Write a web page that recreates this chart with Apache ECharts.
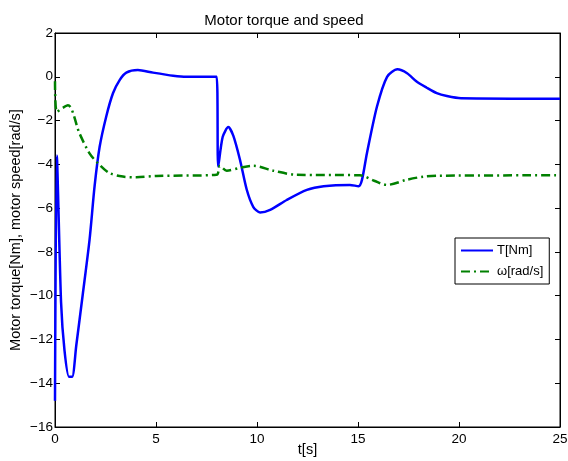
<!DOCTYPE html>
<html>
<head>
<meta charset="utf-8">
<script src="https://cdn.jsdelivr.net/npm/echarts@6/dist/echarts.min.js"></script>
<style>
  html, body { margin: 0; padding: 0; background: #fff; }
  #chart { width: 568px; height: 461px; }
</style>
</head>
<body>
<div id="chart"></div>
<script>
// torque T[Nm] samples (time, value)
const torqueTime = [0, 0.09, 0.3, 0.47, 0.69, 0.85, 1.05, 1.38, 1.71, 1.96, 2.21, 2.54, 2.87, 3.2, 3.53, 4.1, 4.85, 5.85, 6.5, 8.0,
  8.08, 8.3, 8.58, 8.83, 9.16, 9.49, 9.82, 10.15, 10.65, 11.47, 12.47, 13.3, 14.6, 15.03, 15.2, 15.44, 15.94, 16.44,
  16.95, 17.43, 17.9, 18.4, 18.9, 19.4, 20.1, 25]
const torqueVal = [-14.8, -3.6, -10.3, -12.5, -13.7, -13.7, -12.3, -9.9, -7.45, -5.0, -3.2, -1.8, -0.75, -0.15, 0.19, 0.31, 0.19, 0.05, 0.0, 0.0,
  -4.1, -2.75, -2.3, -2.7, -3.8, -5.15, -5.95, -6.2, -6.08, -5.63, -5.17, -5.0, -4.94, -5.0, -4.7, -3.5, -1.36, 0.0,
  0.34, 0.16, -0.22, -0.5, -0.75, -0.88, -0.98, -1.0]

// speed omega[rad/s] samples (time, value)
const speedTime = [0, 0.09, 0.64, 1.21, 1.71, 2.13, 2.7, 3.36, 4.03, 5.02, 8.0, 8.16, 8.5, 9.2, 9.82, 10.8, 11.97, 15.1, 15.8, 16.43, 17.43, 18.25, 18.9, 25]
const speedVal = [-0.2, -1.6, -1.3, -2.58, -3.5, -3.95, -4.4, -4.56, -4.59, -4.53, -4.48, -4.07, -4.29, -4.15, -4.07, -4.29, -4.48, -4.5, -4.75, -4.94, -4.7, -4.56, -4.52, -4.5]

const pairs = (xs, ys) => xs.map((x, i) => [x, ys[i]])
const fmt = (v) => String(v).replace('-', '\u2212')

const font = 'Liberation Sans, Arial, sans-serif'
const tickStyle = { inside: true, length: 5, lineStyle: { color: '#000' } }
const lineAxis = { onZero: false, lineStyle: { color: '#000' } }

const chart = echarts.init(document.getElementById('chart'))
chart.setOption({
  animation: false,
  backgroundColor: '#fff',
  title: {
    text: 'Motor torque and speed',
    left: 'center',
    top: 8,
    textStyle: { fontFamily: font, fontSize: 15, fontWeight: 'normal', color: '#000' },
  },
  grid: {
    left: 55, right: 8, top: 33, bottom: 34,
    outerBoundsMode: 'none', containLabel: false,
    show: true, borderColor: '#000', borderWidth: 1,
  },
  legend: {
    orient: 'vertical',
    left: 455,
    top: 238,
    padding: [6, 6, 6, 5],
    itemGap: 8,
    itemWidth: 32,
    itemHeight: 13,
    borderColor: '#000',
    borderWidth: 1,
    backgroundColor: '#fff',
    itemStyle: { opacity: 0 },
    textStyle: { fontFamily: font, fontSize: 13, color: '#000', padding: [0, 0, 0, -1] },
    data: ['T[Nm]', 'ω[rad/s]'],
  },
  xAxis: [
    {
      type: 'value', min: 0, max: 25, interval: 5,
      name: 't[s]', nameLocation: 'middle', nameGap: 15, nameMoveOverlap: false,
      nameTextStyle: { fontFamily: font, fontSize: 14.5, color: '#000' },
      axisLine: lineAxis,
      axisTick: tickStyle,
      axisLabel: { fontFamily: font, fontSize: 13.5, color: '#000', margin: 5, formatter: fmt },
      splitLine: { show: false },
    },
    {
      type: 'value', min: 0, max: 25, interval: 5, position: 'top',
      axisLine: lineAxis,
      axisTick: tickStyle, axisLabel: { show: false }, splitLine: { show: false },
    },
  ],
  yAxis: [
    {
      type: 'value', min: -16, max: 2, interval: 2,
      name: 'Motor torque[Nm], motor speed[rad/s]', nameLocation: 'middle', nameGap: 32, nameMoveOverlap: false,
      nameTextStyle: { fontFamily: font, fontSize: 14.5, color: '#000' },
      axisLine: lineAxis,
      axisTick: tickStyle,
      axisLabel: { fontFamily: font, fontSize: 13.5, color: '#000', margin: 2, formatter: fmt },
      splitLine: { show: false },
    },
    {
      type: 'value', min: -16, max: 2, interval: 2, position: 'right',
      axisLine: lineAxis,
      axisTick: tickStyle, axisLabel: { show: false }, splitLine: { show: false },
    },
  ],
  series: [
    {
      name: 'T[Nm]',
      type: 'line',
      data: pairs(torqueTime, torqueVal),
      symbol: 'none',
      smooth: 0.25,
      itemStyle: { color: '#0000ff' },
      lineStyle: { color: '#0000ff', width: 2.5 },
    },
    {
      name: 'ω[rad/s]',
      type: 'line',
      data: pairs(speedTime, speedVal),
      symbol: 'none',
      smooth: 0.3,
      itemStyle: { color: '#008000' },
      lineStyle: { color: '#008000', width: 2.5, type: [9, 4, 2, 4] },
    },
  ],
})
</script>
</body>
</html>
